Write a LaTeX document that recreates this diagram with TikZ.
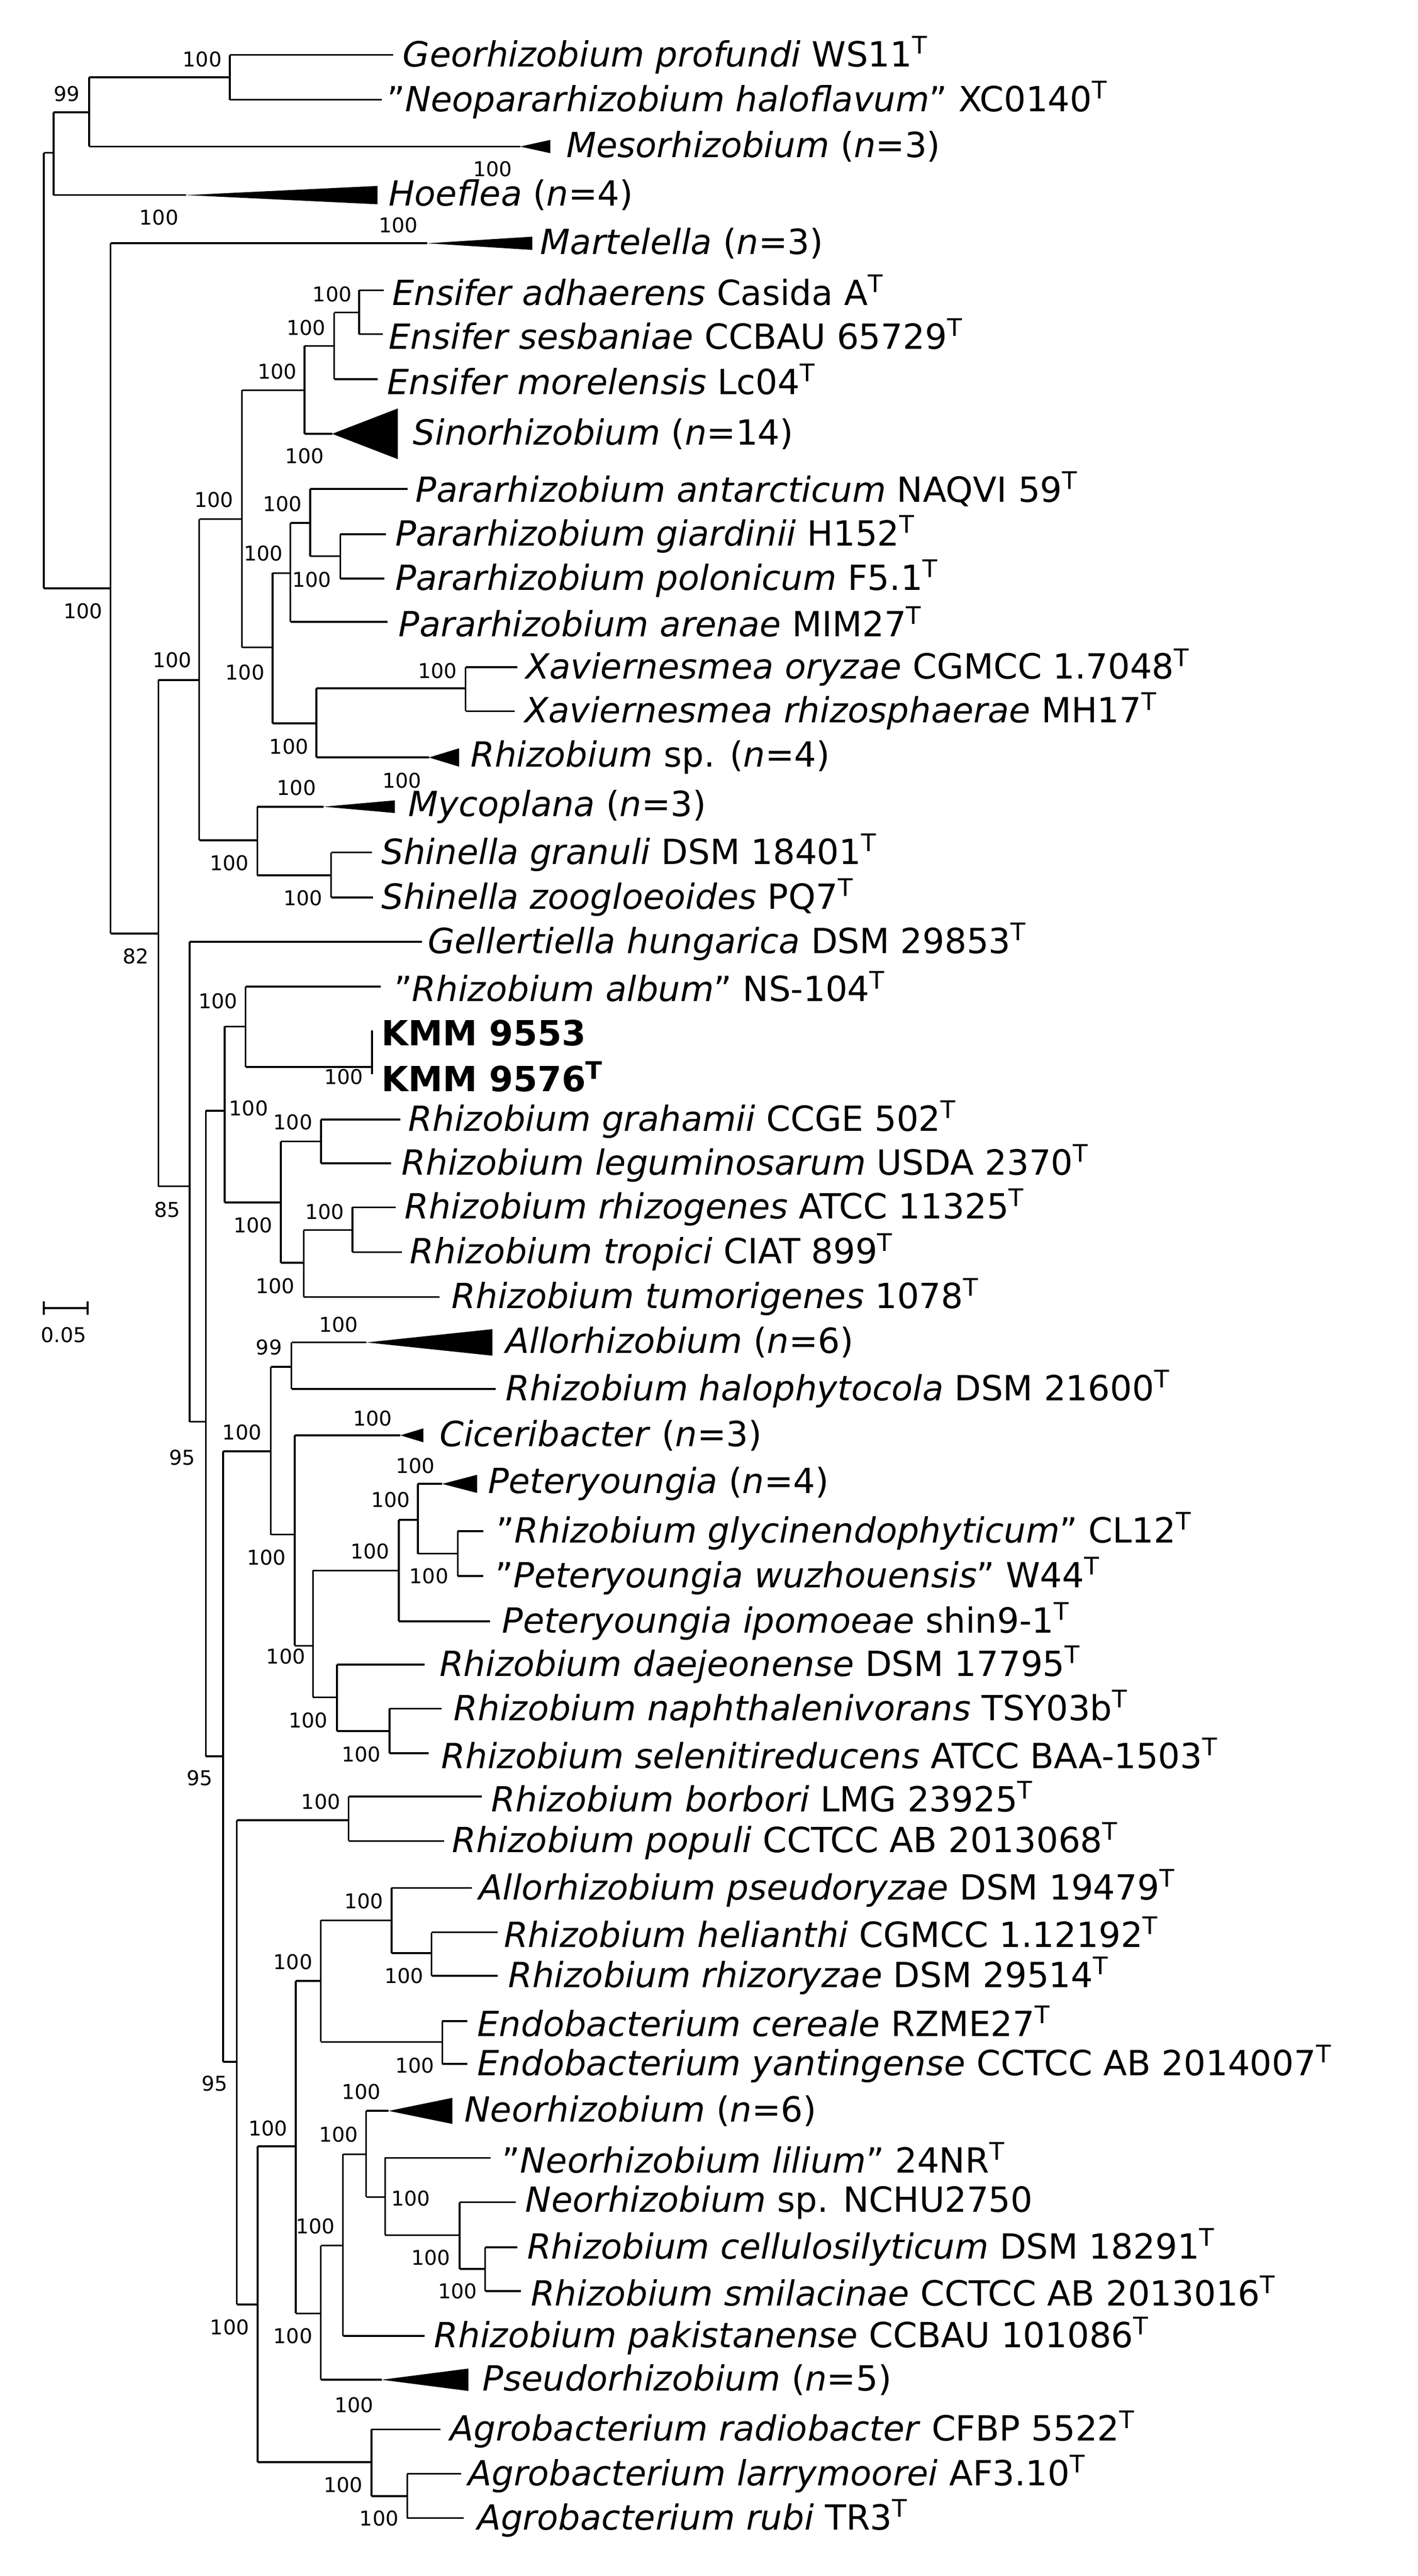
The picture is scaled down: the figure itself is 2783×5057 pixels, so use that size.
\documentclass[tikz,border=0pt]{standalone}
\usepackage{fontspec}
\setmainfont{DejaVu Sans}[Ligatures=ResetAll]
\newcommand\hl[3]{\draw (#1,#3) -- (#2,#3);}
\newcommand\vl[3]{\draw (#1,#2) -- (#1,#3);}
\newcommand\lf[5]{\draw (#1,#3) -- (#2,#3); \node[leaf] at (#5,#3) {#4};}
\newcommand\tri[7]{\draw (#1,#4) -- (#2,#4); \fill (#2,#4) -- (#3,#4-#5) -- (#3,#4+#5) -- cycle; \node[leaf] at (#7,#4) {#6};}
\newcommand\bs[3]{\node[boot] at (#1,#2) {#3};}
\newcommand\T{\textsuperscript{T}}
\newcommand\q{\symbol{34}}
\begin{document}
\begin{tikzpicture}[x=0.25pt,y=-0.25pt,line width=0.9pt,
 leaf/.style={anchor=west,inner sep=0pt,font=\fontsize{17}{18}\selectfont},
 boot/.style={inner sep=0pt,font=\fontsize{10}{11}\selectfont}]
\useasboundingbox (0,0) rectangle (2783,5057);
\vl{86}{300}{1155}
\hl{86}{105}{300} \vl{105}{220.6}{383}
\hl{105}{175}{220.6} \vl{175}{151.7}{287.7} \bs{131}{184}{99}
\hl{175}{451}{151.7} \vl{451}{107.8}{195.7} \bs{397}{116}{100}
\lf{451}{772}{107.8}{\textit{Georhizobium profundi} WS11\T}{789}
\lf{451}{749}{195.7}{\q\textit{Neopararhizobium haloflavum}\q{} XC0140\T}{758}
\tri{175}{1021}{1080}{287.7}{13}{\textit{Mesorhizobium} (\textit{n}=3)}{1110} \bs{967}{331.7}{100}
\tri{105}{365}{741}{383}{18}{\textit{Hoeflea} (\textit{n}=4)}{761} \bs{312}{427}{100}
\hl{86}{217}{1155} \bs{163}{1200}{100} \vl{217}{477.6}{1832.4}
\tri{217}{838}{1045}{477.6}{13}{\textit{Martelella} (\textit{n}=3)}{1059} \bs{782}{442}{100}
\hl{217}{311}{1832.4} \bs{267}{1877}{82} \vl{311}{1334.9}{2328.9}
\hl{311}{391}{1334.9} \bs{338}{1296}{100} \vl{391}{1019}{1649.6}
\hl{391}{475}{1019} \bs{420}{981}{100} \vl{475}{766}{1270.8}
\hl{475}{598}{766} \bs{544}{729.7}{100} \vl{598}{679}{851.6}
\hl{598}{656}{679} \bs{601}{643.5}{100} \vl{656}{613.6}{744.6}
\hl{656}{705}{613.6} \bs{652}{578}{100} \vl{705}{569.7}{655.9}
\lf{705}{753}{569.7}{\textit{Ensifer adhaerens} Casida A\T}{768}
\lf{705}{751}{655.9}{\textit{Ensifer sesbaniae} CCBAU 65729\T}{761}
\lf{656}{741}{744.6}{\textit{Ensifer morelensis} Lc04\T}{758}
\tri{598}{652}{781}{851.6}{49.8}{\textit{Sinorhizobium} (\textit{n}=14)}{809} \bs{598}{895.5}{100}
\hl{475}{535}{1270.8} \bs{481}{1319.6}{100} \vl{535}{1125}{1420}
\hl{535}{570}{1125} \bs{517}{1086}{100} \vl{570}{1026.5}{1220.6}
\hl{570}{609}{1026.5} \bs{554}{989}{100} \vl{609}{960}{1092}
\lf{609}{800}{960}{\textit{Pararhizobium antarcticum} NAQVI 59\T}{814}
\hl{609}{668}{1092} \bs{612}{1137.6}{100} \vl{668}{1049}{1136}
\lf{668}{758}{1049}{\textit{Pararhizobium giardinii} H152\T}{774}
\lf{668}{754}{1136}{\textit{Pararhizobium polonicum} F5.1\T}{774}
\lf{570}{761}{1220.6}{\textit{Pararhizobium arenae} MIM27\T}{781}
\hl{535}{621}{1420} \bs{567}{1466}{100} \vl{621}{1351}{1487}
\hl{621}{914}{1351} \bs{859}{1316.7}{100} \vl{914}{1310}{1396}
\lf{914}{1015}{1310}{\textit{Xaviernesmea oryzae} CGMCC 1.7048\T}{1030}
\lf{914}{1010}{1396}{\textit{Xaviernesmea rhizosphaerae} MH17\T}{1028}
\tri{621}{842}{901}{1487}{18}{\textit{Rhizobium} sp. (\textit{n}=4)}{922} \bs{789}{1532}{100}
\hl{391}{505}{1649.6} \bs{450}{1694.6}{100} \vl{505}{1583.6}{1718.5}
\tri{505}{635}{775}{1583.6}{12.4}{\textit{Mycoplana} (\textit{n}=3)}{800} \bs{582}{1546}{100}
\hl{505}{650}{1718.5} \bs{595}{1762.5}{100} \vl{650}{1673.5}{1761.6}
\lf{650}{730}{1673.5}{\textit{Shinella granuli} DSM 18401\T}{747}
\lf{650}{732}{1761.6}{\textit{Shinella zoogloeoides} PQ7\T}{747}
\hl{311}{372}{2328.9} \bs{328}{2374.8}{85} \vl{372}{1848.6}{2791}
\lf{372}{828}{1848.6}{\textit{Gellertiella hungarica} DSM 29853\T}{838}
\hl{372}{404}{2791} \bs{358}{2861}{95} \vl{404}{2180.6}{3448}
\hl{404}{441}{2180.6} \bs{488}{2175.8}{100} \vl{441}{2015}{2360.4}
\hl{441}{482}{2015} \bs{428}{1965.3}{100} \vl{482}{1936.6}{2094.5}
\lf{482}{747}{1936.6}{\q\textit{Rhizobium album}\q{} NS-104\T}{772}
\hl{482}{730}{2094.5} \vl{730}{2022.7}{2108.8} \bs{675}{2113.6}{100}
\node[leaf] (k1) at (747,2027.5) {\textbf{KMM 9553}};
\node[leaf] (k2) at (747,2113.6) {\textbf{KMM 9576\T}};
\hl{441}{551}{2360.4} \bs{497}{2405.4}{100} \vl{551}{2240.9}{2479}
\hl{551}{630}{2240.9} \bs{575}{2202.6}{100} \vl{630}{2197.8}{2283.9}
\lf{630}{786}{2197.8}{\textit{Rhizobium grahamii} CCGE 502\T}{800}
\lf{630}{768}{2283.9}{\textit{Rhizobium leguminosarum} USDA 2370\T}{787}
\hl{551}{596}{2479} \bs{540}{2525}{100} \vl{596}{2414.9}{2546}
\hl{596}{692}{2414.9} \bs{637}{2378.6}{100} \vl{692}{2370}{2458}
\lf{692}{777}{2370}{\textit{Rhizobium rhizogenes} ATCC 11325\T}{793}
\lf{692}{789}{2458}{\textit{Rhizobium tropici} CIAT 899\T}{803}
\lf{596}{863}{2546}{\textit{Rhizobium tumorigenes} 1078\T}{885}
\draw (86,2568) -- (172,2568); \draw (86,2555) -- (86,2581); \draw (172,2555) -- (172,2581);
\node[boot] (sc) at (125,2620.6) {0.05};
\hl{404}{438}{3448} \bs{392}{3490}{95} \vl{438}{2849}{4047.5}
\hl{438}{531.5}{2849} \bs{475}{2812}{100} \vl{531.5}{2683.4}{3012.6}
\hl{531.5}{572}{2683.4} \bs{528}{2645}{99} \vl{572}{2635.3}{2726.5}
\tri{572}{719.5}{966.4}{2635.3}{26}{\textit{Allorhizobium} (\textit{n}=6)}{991} \bs{664.8}{2600.5}{100}
\lf{572}{973.4}{2726.5}{\textit{Rhizobium halophytocola} DSM 21600\T}{991}
\hl{531.5}{578.5}{3012.6} \bs{523}{3058}{100} \vl{578.5}{2817.7}{3230.7}
\tri{578.5}{786}{831}{2817.7}{13.7}{\textit{Ciceribacter} (\textit{n}=3)}{861} \bs{731}{2784.6}{100}
\hl{578.5}{614.3}{3230.7} \bs{561}{3251.4}{100} \vl{614.3}{3083}{3331.8}
\hl{614.3}{782.6}{3083} \bs{726.5}{3045.8}{100} \vl{782.6}{2983.6}{3182.6}
\hl{782.6}{820.5}{2983.6} \bs{766.5}{2944.6}{100} \vl{820.5}{2913}{3050}
\tri{820.5}{868}{936.3}{2913}{17.8}{\textit{Peteryoungia} (\textit{n}=4)}{956} \bs{815.6}{2878}{100}
\hl{820.5}{898.4}{3050} \bs{842}{3093.9}{100} \vl{898.4}{3006}{3093.9}
\lf{898.4}{949}{3006}{\q\textit{Rhizobium glycinendophyticum}\q{} CL12\T}{973}
\lf{898.4}{949}{3093.9}{\q\textit{Peteryoungia wuzhouensis}\q{} W44\T}{971}
\lf{782.6}{961.5}{3182.6}{\textit{Peteryoungia ipomoeae} shin9-1\T}{984}
\hl{614.3}{661.3}{3331.8} \bs{605}{3377.4}{100} \vl{661.3}{3268}{3398}
\lf{661.3}{833}{3268}{\textit{Rhizobium daejeonense} DSM 17795\T}{861}
\hl{661.3}{764.4}{3398} \bs{709}{3443.8}{100} \vl{764.4}{3354.2}{3442}
\lf{764.4}{867}{3354.2}{\textit{Rhizobium naphthalenivorans} TSY03b\T}{889}
\lf{764.4}{841.6}{3442}{\textit{Rhizobium selenitireducens} ATCC BAA-1503\T}{864.7}
\hl{438}{464.9}{4047.5} \bs{421}{4090.6}{95} \vl{464.9}{3573}{4524}
\hl{464.9}{684.4}{3573} \bs{629.7}{3537}{100} \vl{684.4}{3526.9}{3614}
\lf{684.4}{945.4}{3526.9}{\textit{Rhizobium borbori} LMG 23925\T}{963}
\lf{684.4}{871.7}{3614}{\textit{Rhizobium populi} CCTCC AB 2013068\T}{885.8}
\hl{464.9}{505.5}{4524} \bs{450.8}{4569}{100} \vl{505.5}{4213.6}{4833.6}
\hl{505.5}{580.6}{4213.6} \bs{525.9}{4177.7}{100} \vl{580.6}{3888.7}{4541.5}
\hl{580.6}{629.7}{3888.7} \bs{575}{3851.8}{100} \vl{629.7}{3769.8}{4008.6}
\hl{629.7}{768.6}{3769.8} \bs{713.9}{3731.8}{100} \vl{768.6}{3706.2}{3834.3}
\lf{768.6}{926.4}{3706.2}{\textit{Allorhizobium pseudoryzae} DSM 19479\T}{938.4}
\hl{768.6}{847.2}{3834.3} \bs{793}{3878.4}{100} \vl{847.2}{3793.3}{3878.4}
\lf{847.2}{977}{3793.3}{\textit{Rhizobium helianthi} CGMCC 1.12192\T}{987.5}
\lf{847.2}{977}{3878.4}{\textit{Rhizobium rhizoryzae} DSM 29514\T}{996}
\hl{629.7}{868.2}{4008.6} \bs{814}{4054.7}{100} \vl{868.2}{3967.6}{4051.6}
\lf{868.2}{917}{3967.6}{\textit{Endobacterium cereale} RZME27\T}{935}
\lf{868.2}{917}{4051.6}{\textit{Endobacterium yantingense} CCTCC AB 2014007\T}{935}
\hl{580.6}{629.7}{4541.5} \bs{575}{4585.6}{100} \vl{629.7}{4408.3}{4671.7}
\hl{629.7}{673.2}{4408.3} \bs{619}{4370.4}{100} \vl{673.2}{4228.9}{4585.6}
\hl{673.2}{718.8}{4228.9} \bs{664.8}{4190}{100} \vl{718.8}{4143.9}{4313}
\tri{718.8}{763}{887.9}{4143.9}{25.6}{\textit{Neorhizobium} (\textit{n}=6)}{910} \bs{709}{4106}{100}
\hl{718.8}{756}{4313} \bs{806.5}{4316}{100} \vl{756}{4236.1}{4387.8}
\lf{756}{963}{4236.1}{\q\textit{Neorhizobium lilium}\q{} 24NR\T}{984}
\hl{756}{901.9}{4387.8} \bs{845.8}{4431.9}{100} \vl{901.9}{4323.2}{4454.4}
\lf{901.9}{1012}{4323.2}{\textit{Neorhizobium} sp. NCHU2750}{1029.6}
\hl{901.9}{952.4}{4454.4} \bs{898.4}{4497.5}{100} \vl{952.4}{4411.4}{4497.5}
\lf{952.4}{1015.5}{4411.4}{\textit{Rhizobium cellulosilyticum} DSM 18291\T}{1033}
\lf{952.4}{1022.5}{4497.5}{\textit{Rhizobium smilacinae} CCTCC AB 2013016\T}{1040}
\lf{673.2}{833}{4585.6}{\textit{Rhizobium pakistanense} CCBAU 101086\T}{850.7}
\tri{629.7}{749}{919.4}{4671.7}{22}{\textit{Pseudorhizobium} (\textit{n}=5)}{945.4} \bs{695}{4721}{100}
\hl{505.5}{729.3}{4833.6} \bs{673.9}{4877.7}{100} \vl{729.3}{4769}{4900.3}
\lf{729.3}{864.7}{4769}{\textit{Agrobacterium radiobacter} CFBP 5522\T}{882}
\hl{729.3}{799.5}{4900.3} \bs{744}{4943.3}{100} \vl{799.5}{4856.2}{4943.3}
\lf{799.5}{904.7}{4856.2}{\textit{Agrobacterium larrymoorei} AF3.10\T}{917}
\lf{799.5}{910.3}{4943.3}{\textit{Agrobacterium rubi} TR3\T}{935}
\end{tikzpicture}
\end{document}
